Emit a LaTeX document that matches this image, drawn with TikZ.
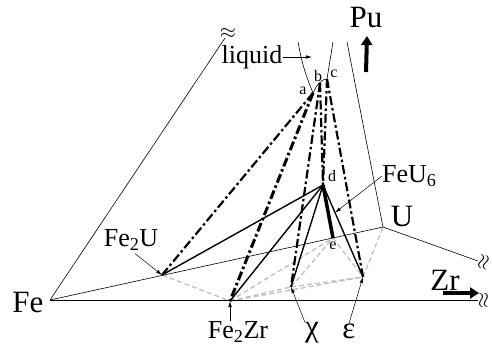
\documentclass[tikz,border=0pt]{standalone}
\usepackage{fontspec}
\setmainfont{Liberation Serif}
\usetikzlibrary{arrows.meta,calc}

\begin{document}
\begin{tikzpicture}[
  x=1pt, y=-1pt,
  lbl/.style={font=\fontsize{26}{27}\selectfont, inner sep=0pt},
  ax/.style={font=\fontsize{31}{32}\selectfont, inner sep=0pt},
  pt/.style={font=\fontsize{16}{17}\selectfont, inner sep=0pt},
  brk/.style={font=\fontsize{20}{20}\selectfont, inner sep=0pt},
  axis/.style={line width=0.6pt},
  tie/.style={line width=1.4pt},
  liq/.style={line width=2.2pt, dash pattern=on 9pt off 3pt on 2.5pt off 3pt},
  base/.style={gray!50, line width=1.3pt, dash pattern=on 5pt off 3pt},
  lead/.style={line width=0.5pt, -{Latex[length=6pt,width=3.5pt]}},
  big/.style={line width=4pt, -{Triangle[length=9pt,width=11pt]}}
]
  \useasboundingbox (0,0) rectangle (492,348);
  % corners and phase points
  \coordinate (Fe) at (50,300);
  \coordinate (U) at (383,227);
  \coordinate (puEnd) at (225,38);
  \coordinate (upEnd) at (347,42);
  \coordinate (zrEnd) at (478,300);
  \coordinate (uEnd) at (478,261);
  \coordinate (Fe2U) at (162,275);
  \coordinate (Fe2Zr) at (230,301);
  \coordinate (chi) at (291,287);
  \coordinate (eps) at (363,277);
  \coordinate (d) at (323,185);
  \coordinate (e) at (333,238);
  \coordinate (a) at (313,93);
  \coordinate (b) at (320,83);
  \coordinate (c) at (327,79);
  \coordinate (liqL) at (298,42);
  \coordinate (liqR) at (333,42);
  \coordinate (liqP) at (312,57);
  \coordinate (puTail) at (366,72);
  \coordinate (puTip) at (367,36);
  \coordinate (zrTail) at (443,293);
  \coordinate (zrTip) at (479,293);

  % labels
  \node[ax] (FeL) at (28,302) {Fe};
  \node[lbl] (Fe2UL) at (131,240) {Fe\textsubscript{2}U};
  \node[lbl] (Fe2ZrL) at (238,332) {Fe\textsubscript{2}Zr};
  \node[ax] (chiL) at (312,333) {χ};
  \node[ax] (epsL) at (349,331) {ε};
  \node[ax] (ZrL) at (445,280) {Zr};
  \node[ax] (UL) at (402,216) {U};
  \node[lbl, anchor=west] (FeU6L) at (382,176) {FeU\textsubscript{6}};
  \node[ax] (PuL) at (366,18) {Pu};
  \node[lbl] (liqT) at (252,57) {liquid};
  \node[pt] (aL) at (303,91) {a};
  \node[pt] (bL) at (318,76) {b};
  \node[pt] (cL) at (334,74) {c};
  \node[pt] (dL) at (332,176) {d};
  \node[pt] (eL) at (333,246) {e};
  \node[brk] (brkPu) at (228,33) {$\approx$};
  \node[brk, rotate=90] (brkZr) at (484,300) {$\approx$};
  \node[brk, rotate=75] (brkU) at (484,262) {$\approx$};

  % base plane
  \draw[base] (Fe2U) -- (Fe2Zr);
  \draw[base] (Fe2Zr) -- (e);
  \draw[base] (Fe2Zr) -- (chi);
  \draw[base] (Fe2Zr) -- (eps);
  \draw[base] (chi) -- (e);
  \draw[base] (chi) -- (eps);
  \draw[base] (e) -- (eps);
  \draw[base] (eps) -- (U);

  % frame
  \draw[axis] (Fe) -- (puEnd);
  \draw[axis] (Fe) -- (zrEnd);
  \draw[axis] (Fe) -- (U);
  \draw[axis] (U) -- (uEnd);
  \draw[axis] (U) -- (upEnd);
  \draw[axis] (liqL) to[bend right=6] (a);
  \draw[axis] (liqR) -- (c);
  \draw[axis] (a) .. controls (317,84) and (322,79) .. (c);

  % tie lines from d
  \draw[tie] (d) -- (Fe2U);
  \draw[tie] (d) -- (Fe2Zr);
  \draw[tie] (d) -- (chi);
  \draw[tie] (d) -- (eps);
  \draw[line width=3.5pt] (d) -- (e);

  % tie lines from the liquid
  \draw[liq] (a) -- (Fe2U);
  \draw[liq, line width=3pt] (a) -- (Fe2Zr);
  \draw[liq] (b) -- (chi);
  \draw[liq] (b) -- (d);
  \draw[liq] (c) -- (d);
  \draw[liq] (c) -- (eps);

  % leaders
  \draw[lead] (Fe2UL.south) ++(4,3) -- (Fe2U);
  \draw[lead] (Fe2ZrL.north -| Fe2Zr) -- (Fe2Zr);
  \draw[lead] (chiL.north west) -- (chi);
  \draw[lead] (epsL.north) -- (eps);
  \draw[lead] (FeU6L.west) -- ($(d)!0.3!(eps)$);
  \draw[lead] (liqT.east) -- (liqP);
  \draw[big] (puTail) -- (puTip);
  \draw[big] (zrTail) -- (zrTip);
\end{tikzpicture}
\end{document}
